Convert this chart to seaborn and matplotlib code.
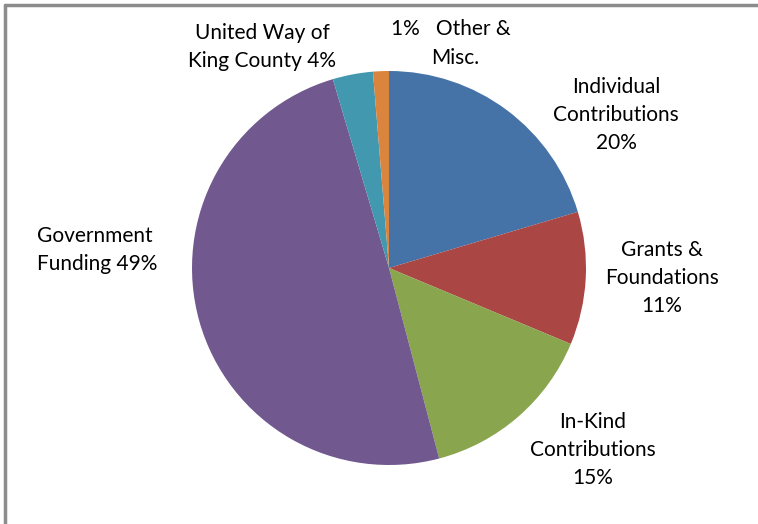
import matplotlib
matplotlib.use("Agg")
import matplotlib.pyplot as plt
import seaborn as sns
from matplotlib.lines import Line2D

# Funding sources, clockwise from 12 o'clock
sources = [
    "Individual Contributions",
    "Grants & Foundations",
    "In-Kind Contributions",
    "Government Funding",
    "United Way of King County",
    "Other & Misc.",
]
shares = [20.4, 10.9, 14.6, 49.5, 3.3, 1.3]
label_texts = [
    "Individual\nContributions\n20%",
    "Grants &\nFoundations\n11%",
    "In-Kind\nContributions\n15%",
    "Government\nFunding 49%",
    "United Way of\nKing County 4%",
    "1%   Other &",
]
colors = ["#4572A7", "#AA4643", "#89A54E", "#71588F", "#4198AF", "#DB843D"]

sns.set_theme(style="white")
plt.rcParams["font.family"] = ["Lato", "DejaVu Sans"]

W, H = 758, 524
fig = plt.figure(figsize=(W / 100, H / 100), dpi=100)
ax = fig.add_axes([0, 0, 1, 1])

ax.pie(
    shares,
    colors=colors,
    startangle=90,
    counterclock=False,
    center=(389, H - 268),
    radius=197,
    frame=True,
    wedgeprops={"linewidth": 0},
)
ax.set_xlim(0, W)
ax.set_ylim(0, H)
ax.set_aspect("equal")
ax.axis("off")

# label anchor points (pixel coords from top-left) and alignment
label_pos = [(616, 115, "center"), (662, 278, "center"), (593, 450, "center"),
             (37, 250, "left"), (262, 47, "center"), (391, 29, "left")]
for txt, (px, py, ha) in zip(label_texts, label_pos):
    ax.text(px, H - py, txt, ha=ha, va="center", fontsize=15,
            linespacing=1.5, color="black")
ax.text(455, H - 58, "Misc.", ha="center", va="center", fontsize=15, color="black")

# chart border (top and left visible)
fig.add_artist(Line2D([5 / W, 5 / W], [0, 1 - 5 / H], color="#8c8c8c", lw=2.5,
                      transform=fig.transFigure))
fig.add_artist(Line2D([5 / W, 1], [1 - 5 / H, 1 - 5 / H], color="#8c8c8c", lw=2.5,
                      transform=fig.transFigure))

fig.savefig("out.png", dpi=100, facecolor="white")
